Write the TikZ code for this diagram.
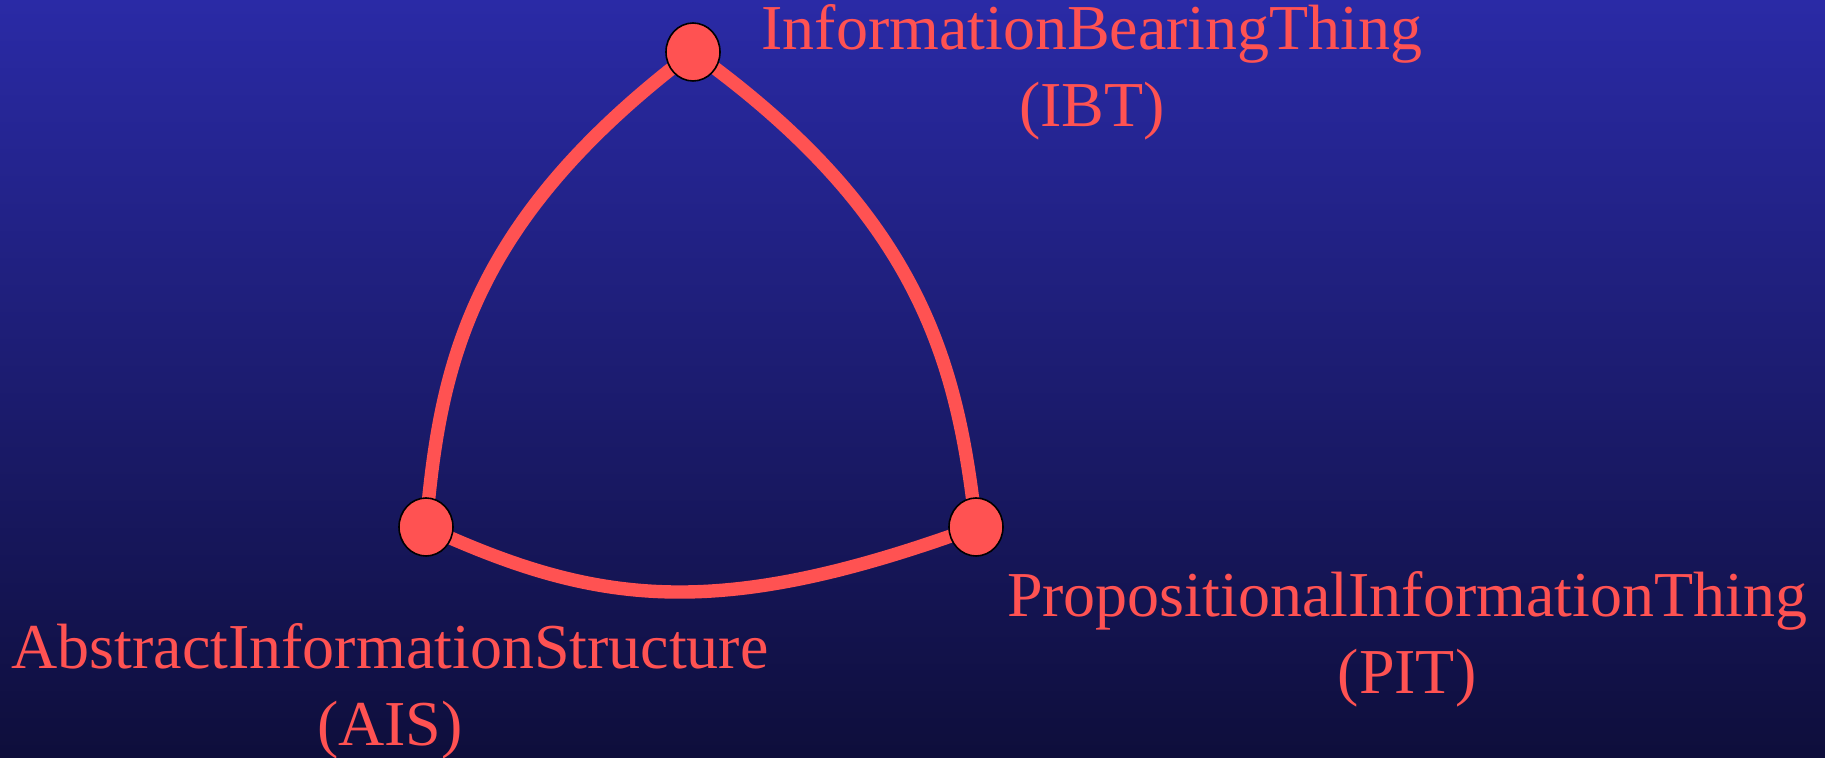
\documentclass[tikz,border=0pt]{standalone}
\usepackage{fontspec}
\setmainfont{Liberation Serif}
\usetikzlibrary{shapes.geometric}
\definecolor{itRed}{HTML}{FF5252}
\definecolor{itTop}{HTML}{2A2AA6}
\definecolor{itBottom}{HTML}{0E0E3B}
\pgfdeclarelayer{backdrop}
\pgfdeclarelayer{links}
\pgfsetlayers{backdrop,links,main}
\tikzset{
 triad/.style={line cap=round,line join=round},
 thing/.style={ellipse,draw=black,fill=itRed,line width=.8pt,inner sep=0pt,minimum width=27pt,minimum height=29pt},
 link/.style={draw=itRed,line width=6.7pt},
 tag/.style={text=itRed,font=\fontsize{32}{38.5}\selectfont,align=center,inner sep=0pt,anchor=base}
}

\begin{document}
\begin{tikzpicture}[triad,x=.5pt,y=-.5pt]
 \begin{pgfonlayer}{backdrop}
 \shade[top color=itTop,bottom color=itBottom] (0,0) rectangle (1825,758);
 \end{pgfonlayer}
 \useasboundingbox (0,0) rectangle (1825,758);
 \node[thing] (ibt) at (693,52) {};
 \node[thing] (ais) at (426,527) {};
 \node[thing] (pit) at (976,527) {};
 % base anchor sits on the last line
 \node[tag] (ibtTag) at (1092,127) {InformationBearingThing\\(IBT)};
 \node[tag] (aisTag) at (390,745) {AbstractInformationStructure\\(AIS)};
 \node[tag] (pitTag) at (1407,693) {PropositionalInformationThing\\(PIT)};
 \begin{pgfonlayer}{links}
 \draw[link] (ibt.center) .. controls +(-225,170) and +(14,-160) .. (ais.center);
 \draw[link] (ibt.center) .. controls +(230,165) and +(-18,-160) .. (pit.center);
 \draw[link] (ais.center) .. controls +(170,78) and +(-260,95) .. (pit.center);
 \end{pgfonlayer}
\end{tikzpicture}
\end{document}
